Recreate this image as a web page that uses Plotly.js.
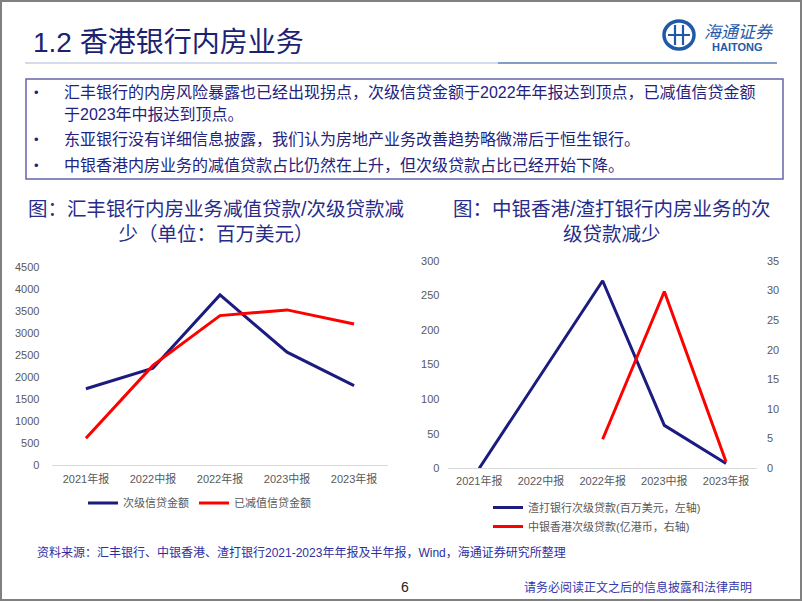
<!DOCTYPE html>
<html>
<head>
<meta charset="utf-8">
<script src="https://cdn.plot.ly/plotly-3.0.1.min.js"></script>
<style>
html,body{margin:0;padding:0;background:#fff;overflow:hidden;}
#chart{width:802px;height:602px;}
</style>
</head>
<body>
<div id="chart"></div>
<script>
// ---- data ----
const categories = ['2021年报', '2022中报', '2022年报', '2023中报', '2023年报'];
const hsbcSubLabel = '次级信贷金额';
const hsbcSub = [1730, 2195, 3860, 2560, 1800];
const hsbcImpLabel = '已减值信贷金额';
const hsbcImp = [605, 2260, 3390, 3520, 3200];
const scSubLabel = '渣打银行次级贷款(百万美元，左轴)';
const scSub = [0, 136, 271, 62, 7];
const bocSubLabel = '中银香港次级贷款(亿港币，右轴)';
const bocSub = [null, null, 4.9, 29.8, 1.1];

const heading = '1.2 香港银行内房业务';
const bullets = [
  '汇丰银行的内房风险暴露也已经出现拐点，次级信贷金额于2022年年报达到顶点，已减值信贷金额',
  '于2023年中报达到顶点。',
  '东亚银行没有详细信息披露，我们认为房地产业务改善趋势略微滞后于恒生银行。',
  '中银香港内房业务的减值贷款占比仍然在上升，但次级贷款占比已经开始下降。'
];
const title1 = '图：汇丰银行内房业务减值贷款/次级贷款减<br>少（单位：百万美元）';
const title2 = '图：中银香港/渣打银行内房业务的次<br>级贷款减少';
const source = '资料来源：汇丰银行、中银香港、渣打银行2021-2023年年报及半年报，Wind，海通证券研究所整理';
const disclaimer = '请务必阅读正文之后的信息披露和法律声明';

// ---- helpers (pixel -> paper) ----
const W = 802, H = 602;
const px = x => x / W;
const py = y => 1 - y / H;

const NAVY = '#1C1C80';
const RED = '#FF0000';
const FONT = 'Liberation Sans, "Noto Sans CJK SC", sans-serif';
const tickFont = {family: FONT, size: 11, color: '#595959'};

const traces = [
  {x: categories, y: hsbcSub, name: hsbcSubLabel, type: 'scatter', mode: 'lines',
   line: {color: NAVY, width: 3}, xaxis: 'x', yaxis: 'y', legend: 'legend'},
  {x: categories, y: hsbcImp, name: hsbcImpLabel, type: 'scatter', mode: 'lines',
   line: {color: RED, width: 3}, xaxis: 'x', yaxis: 'y', legend: 'legend'},
  {x: categories, y: scSub, name: scSubLabel, type: 'scatter', mode: 'lines',
   line: {color: NAVY, width: 3}, xaxis: 'x2', yaxis: 'y2', legend: 'legend2'},
  {x: categories, y: bocSub, name: bocSubLabel, type: 'scatter', mode: 'lines',
   line: {color: RED, width: 3}, xaxis: 'x2', yaxis: 'y3', legend: 'legend2'}
];

function ann(o) { return Object.assign({xref: 'paper', yref: 'paper', showarrow: false}, o); }

const annotations = [
  ann({text: heading, x: px(31), y: py(42), xanchor: 'left', yanchor: 'middle',
   font: {family: FONT, size: 28, color: '#1C2272'}}),
  ann({text: title1, x: px(216), y: py(222), xanchor: 'center', yanchor: 'middle', align: 'center',
   font: {family: FONT, size: 19.5, color: '#282C88'}}),
  ann({text: title2, x: px(611), y: py(222), xanchor: 'center', yanchor: 'middle', align: 'center',
   font: {family: FONT, size: 19.5, color: '#282C88'}}),
  ann({text: source, x: px(35), y: py(552), xanchor: 'left', yanchor: 'middle',
   font: {family: FONT, size: 12, color: '#2E2EA0'}}),
  ann({text: '6', x: px(405), y: py(587), xanchor: 'center', yanchor: 'middle',
   font: {family: FONT, size: 14, color: '#222222'}}),
  ann({text: disclaimer, x: px(522), y: py(587), xanchor: 'left', yanchor: 'middle',
   font: {family: FONT, size: 12, color: '#3636A8'}}),
  ann({text: '海通证券', x: px(739), y: py(32), xanchor: 'center', yanchor: 'middle',
   font: {family: FONT, size: 17, color: '#1F5AA8', style: 'italic'}}),
  ann({text: '<b>HAITONG</b>', x: px(737.5), y: py(47), xanchor: 'center', yanchor: 'middle',
   font: {family: 'Liberation Sans, Arial, sans-serif', size: 11, color: '#1F5AA8'}})
];
const bulletY = [93, 115, 140, 165];
const bulletDot = [true, false, true, true];
bullets.forEach((t, i) => {
  annotations.push(ann({text: t, x: px(62), y: py(bulletY[i]), xanchor: 'left', yanchor: 'middle',
    font: {family: FONT, size: 16, color: '#23237F'}}));
  if (bulletDot[i]) annotations.push(ann({text: '•', x: px(36), y: py(bulletY[i]), xanchor: 'center', yanchor: 'middle',
    font: {family: FONT, size: 13, color: '#23237F'}}));
});

const shapes = [
  // slide frame
  {type: 'rect', xref: 'paper', yref: 'paper', x0: px(1), x1: px(801), y0: py(1), y1: py(600),
   line: {color: '#808080', width: 2}},
  // title underline
  {type: 'line', xref: 'paper', yref: 'paper', x0: px(25), x1: px(498), y0: py(63), y1: py(63),
   line: {color: '#AAB8D8', width: 1.2}},
  {type: 'line', xref: 'paper', yref: 'paper', x0: px(498), x1: px(777), y0: py(63), y1: py(63),
   line: {color: '#5A7DB2', width: 1.5}},
  // bullet box
  {type: 'rect', xref: 'paper', yref: 'paper', x0: px(26), x1: px(783), y0: py(79), y1: py(179),
   line: {color: '#6464AA', width: 1.5}},
  // logo
  {type: 'circle', xref: 'paper', yref: 'paper', x0: px(664), x1: px(694), y0: py(21), y1: py(49),
   line: {color: '#1F5AA8', width: 3.5}},
  {type: 'path', xref: 'paper', yref: 'paper',
   path: `M ${px(668)} ${py(35)} L ${px(690)} ${py(35)} M ${px(675)} ${py(25)} L ${px(675)} ${py(45)} M ${px(683)} ${py(25)} L ${px(683)} ${py(45)}`,
   line: {color: '#1F5AA8', width: 2.2}}
];

const layout = {
  width: W, height: H,
  margin: {l: 0, r: 0, t: 0, b: 0},
  paper_bgcolor: '#ffffff', plot_bgcolor: '#ffffff',
  font: {family: FONT},
  xaxis: {domain: [px(52.4), px(387.6)], anchor: 'y', type: 'category', range: [-0.5, 4.5],
    showline: true, linecolor: '#D9D9D9', linewidth: 1, ticks: '', showgrid: false,
    tickfont: tickFont, ticklabelstandoff: 4, fixedrange: true},
  yaxis: {domain: [py(465), py(266.7)], anchor: 'x', range: [0, 4500], dtick: 500,
    showgrid: false, zeroline: false, showline: false, ticks: '', tickfont: tickFont,
    ticklabelstandoff: 12, fixedrange: true},
  xaxis2: {domain: [px(448.4), px(756.9)], anchor: 'y2', type: 'category', range: [-0.5, 4.5],
    showline: true, linecolor: '#D9D9D9', linewidth: 1, ticks: '', showgrid: false,
    tickfont: tickFont, ticklabelstandoff: 2, fixedrange: true},
  yaxis2: {domain: [py(468.3), py(260.7)], anchor: 'x2', range: [0, 300], dtick: 50,
    showgrid: false, zeroline: false, showline: false, ticks: '', tickfont: tickFont,
    ticklabelstandoff: 8, fixedrange: true},
  yaxis3: {domain: [py(468.3), py(260.7)], anchor: 'x2', overlaying: 'y2', side: 'right',
    range: [0, 35], dtick: 5, showgrid: false, zeroline: false, showline: false, ticks: '',
    tickfont: tickFont, ticklabelstandoff: 9, fixedrange: true},
  legend: {orientation: 'h', x: px(83), y: py(503), xanchor: 'left', yanchor: 'middle',
    font: {family: FONT, size: 11, color: '#595959'}, bgcolor: 'rgba(0,0,0,0)'},
  legend2: {orientation: 'v', x: px(488), y: py(517), xanchor: 'left', yanchor: 'middle',
    font: {family: FONT, size: 11, color: '#595959'}, bgcolor: 'rgba(0,0,0,0)'},
  annotations: annotations,
  shapes: shapes,
  showlegend: true
};

Plotly.newPlot('chart', traces, layout, {displayModeBar: false, staticPlot: true});
</script>
</body>
</html>
